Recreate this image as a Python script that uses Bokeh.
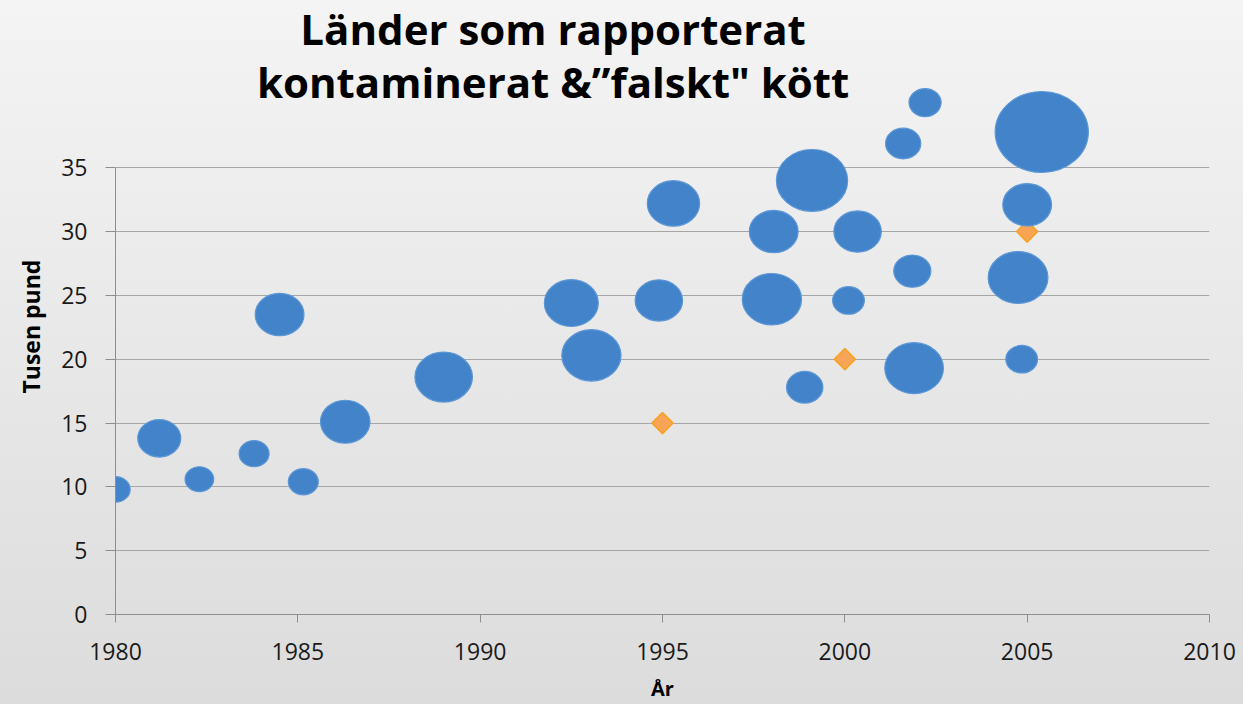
import numpy as np
from bokeh.plotting import figure
from bokeh.models import ColumnDataSource, FixedTicker, Range1d, Label, Title
from bokeh.embed import file_html
from bokeh.resources import INLINE

# ---- data ----
years = [1980.0, 1981.2, 1982.3, 1983.8, 1984.5, 1985.15, 1986.3, 1989.0,
         1992.5, 1993.05, 1994.9, 1995.3, 1998.05, 1998.0, 1999.1, 1998.9,
         2000.35, 2000.1, 2001.6, 2002.2, 2001.85, 2001.9, 2005.4, 2005.0,
         2004.75, 2004.85]
values = [9.8, 13.8, 10.6, 12.6, 23.5, 10.4, 15.1, 18.6,
          24.4, 20.3, 24.6, 32.2, 30.0, 24.7, 34.0, 17.8,
          30.0, 24.6, 36.9, 40.1, 26.9, 19.3, 37.8, 32.1,
          26.4, 20.0]
bubble_size = [6.5, 14, 6.2, 6.8, 18, 6.8, 18.5, 25,
               22, 26.5, 17, 20.7, 18, 26.5, 38.4, 10,
               17, 7.6, 9.4, 7.8, 10.4, 26, 65.6, 18,
               27, 7.6]
diamond_years = [1995, 2000, 2005]
diamond_values = [15, 20, 30]
x_ticks = [1980, 1985, 1990, 1995, 2000, 2005, 2010]
y_ticks = [0, 5, 10, 15, 20, 25, 30, 35]
title_lines = ["Länder som rapporterat", "kontaminerat &\u201dfalskt\" kött"]
x_title = "År"
y_title = "Tusen pund"

# ---- figure ----
p = figure(width=1243, height=704, output_backend="svg", toolbar_location=None,
           x_range=Range1d(1980, 2010), y_range=Range1d(0, 48.1),
           min_border_left=115, min_border_right=34, min_border_top=0,
           min_border_bottom=89)
p.background_fill_alpha = 0
p.border_fill_alpha = 0
p.outline_line_color = None
p.styles = {"background-image": "linear-gradient(to bottom, #f4f4f4, #dcdcdc)"}

axis_col = "#8e8e8e"
p.xaxis.ticker = FixedTicker(ticks=x_ticks)
p.yaxis.ticker = FixedTicker(ticks=y_ticks)
p.yaxis.bounds = (0, 35)
p.xgrid.visible = False
p.ygrid.grid_line_color = "#a6a6a6"
p.ygrid.grid_line_width = 1

for ax in (p.xaxis[0], p.yaxis[0]):
    ax.axis_line_color = axis_col
    ax.major_tick_line_color = axis_col
    ax.minor_tick_line_color = None
    ax.major_tick_in = 0
    ax.major_label_text_font = "Open Sans"
    ax.major_label_text_font_size = "23px"
    ax.major_label_text_color = "#1a1a1a"
    ax.axis_label_text_font = "Open Sans"
    ax.axis_label_text_font_style = "bold"
    ax.axis_label_text_color = "#000000"

p.xaxis.major_tick_out = 8
p.yaxis.major_tick_out = 10
p.xaxis.major_label_standoff = 20
p.yaxis.major_label_standoff = 18
p.xaxis.axis_label = x_title
p.xaxis.axis_label_text_font_size = "20px"
p.xaxis.axis_label_standoff = 12

# y axis title as a side title (allows shifting along the axis)
p.add_layout(Title(text=y_title, align="left", offset=221, standoff=23,
                   text_font="Open Sans", text_font_style="bold",
                   text_font_size="23px", text_color="#000000"), "left")

# diamonds (second series)
p.scatter(diamond_years, diamond_values, marker="square", angle=45, angle_units="deg",
          size=15, fill_color="#f7a456", line_color="#f8a21d", line_width=1.5)

# bubbles
h = 10 * np.sqrt(np.array(bubble_size))
src = ColumnDataSource(dict(x=years, y=values, w=1.15 * h, h=h))
p.ellipse(x="x", y="y", width="w", height="h", width_units="screen",
          height_units="screen", source=src, fill_color="#4383c9",
          line_color="#5b97d6", line_width=1.2)

# title
for txt, ty in zip(title_lines, [45.9, 41.75]):
    p.add_layout(Label(x=1992.0, y=ty, text=txt, text_align="center",
                       text_baseline="alphabetic", text_font="Open Sans",
                       text_font_style="bold", text_font_size="42px",
                       text_color="#000000"))

open("out.html", "w").write(file_html(p, INLINE))
